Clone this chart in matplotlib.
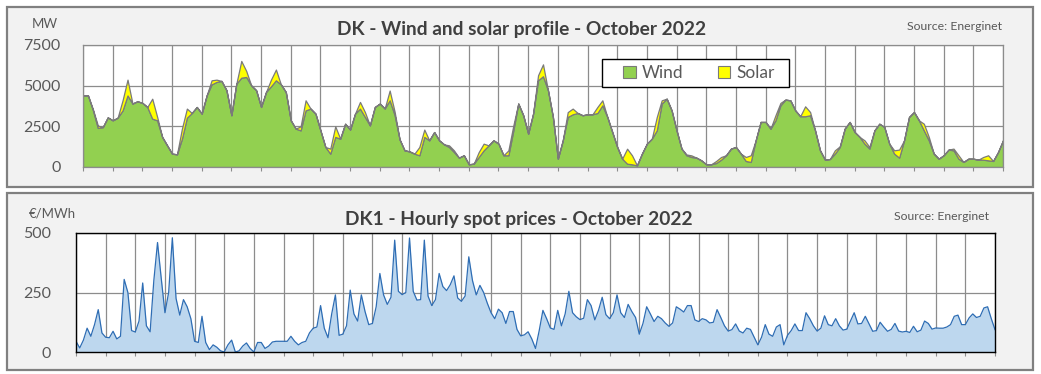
import matplotlib
matplotlib.use("Agg")
import matplotlib.pyplot as plt
from matplotlib.patches import Rectangle, Patch
import numpy as np

plt.rcParams['font.family'] = ['Lato', 'DejaVu Sans']

# ---------------- data ----------------
series_names = ["Wind", "Solar"]

# Wind production (MW), 4-hourly samples, 1 Oct 00:00 -> 1 Nov 00:00
wind = [
    4400, 4400, 3500, 2400, 2450, 3050,
    2870, 3030, 3480, 4400, 3900, 4040,
    3940, 3690, 2970, 2870, 1850, 1330,
    820, 780, 1740, 3030, 3320, 3690,
    3280, 4400, 5080, 5230, 5290, 4720,
    3180, 5120, 5490, 5535, 5020, 4720,
    3690, 4610, 4960, 5330, 5080, 4610,
    2870, 2360, 2250, 3480, 3590, 3280,
    2250, 1230, 820, 1850, 1740, 2660,
    2300, 3280, 3590, 3075, 2560, 3690,
    3900, 3600, 4100, 3200, 1700, 1025,
    960, 820, 720, 1850, 1640, 2150,
    1640, 1390, 1230, 920, 575, 720,
    165, 205, 615, 1025, 1330, 1640,
    1435, 720, 720, 2250, 3900, 3180,
    2050, 3280, 5330, 5580, 4720, 3075,
    510, 1640, 3075, 3240, 3320, 3180,
    3240, 3240, 3320, 3790, 3075, 2150,
    1230, 510, 205, 165, 100, 820,
    1435, 1740, 2250, 3900, 4200, 3480,
    2250, 1130, 720, 615, 575, 410,
    165, 165, 245, 450, 720, 1130,
    1230, 820, 370, 310, 1640, 2770,
    2770, 2360, 2870, 3790, 4140, 4100,
    3480, 3120, 3120, 3180, 2250, 1025,
    450, 490, 820, 1230, 2360, 2770,
    2150, 1850, 1435, 1130, 2250, 2660,
    2460, 1435, 820, 575, 1640, 3075,
    3380, 2870, 2250, 1640, 820, 510,
    720, 1070, 1025, 510, 310, 510,
    510, 450, 450, 410, 370, 920,
    1640,
]

# Solar production (MW), same 4-hourly samples
solar = [
    0, 0, 50, 150, 0, 0,
    0, 0, 620, 970, 0, 0,
    0, 0, 1230, 200, 0, 0,
    0, 0, 620, 560, 0, 0,
    0, 0, 250, 140, 0, 0,
    0, 0, 1030, 370, 0, 0,
    0, 0, 410, 660, 0, 0,
    0, 0, 250, 620, 0, 0,
    0, 0, 310, 650, 0, 0,
    0, 0, 410, 300, 0, 0,
    0, 0, 600, 200, 0, 0,
    0, 0, 510, 450, 0, 0,
    0, 0, 100, 100, 0, 0,
    0, 0, 300, 410, 0, 0,
    0, 0, 300, 300, 0, 0,
    0, 0, 310, 730, 0, 0,
    0, 0, 300, 350, 0, 0,
    0, 0, 370, 310, 0, 0,
    0, 0, 920, 550, 0, 0,
    0, 0, 820, 200, 0, 0,
    0, 0, 50, 100, 0, 0,
    0, 0, 125, 165, 0, 0,
    0, 0, 245, 410, 0, 0,
    0, 0, 310, 150, 0, 0,
    0, 0, 610, 200, 0, 0,
    0, 0, 205, 40, 0, 0,
    0, 0, 205, 100, 0, 0,
    0, 0, 205, 495, 0, 0,
    0, 0, 410, 205, 0, 0,
    0, 0, 105, 210, 0, 0,
    0, 0, 165, 310, 0, 0,
    0,
]

# DK1 spot price (EUR/MWh), 3-hourly samples
price = [
    45, 17, 50, 100, 66, 115, 178, 80,
    62, 60, 87, 55, 66, 305, 250, 90,
    84, 130, 290, 110, 85, 300, 460, 310,
    165, 250, 480, 225, 155, 220, 190, 140,
    45, 40, 150, 40, 10, 30, 20, 5,
    0, 30, 50, 0, 5, 25, 38, 15,
    0, 40, 40, 15, 25, 42, 45, 45,
    45, 45, 66, 45, 30, 40, 45, 80,
    100, 105, 195, 100, 60, 160, 240, 70,
    75, 110, 260, 160, 130, 240, 170, 115,
    120, 190, 330, 240, 200, 230, 470, 255,
    241, 250, 479, 255, 218, 220, 470, 235,
    195, 220, 330, 275, 258, 283, 320, 227,
    213, 235, 400, 300, 240, 280, 250, 205,
    165, 140, 180, 165, 120, 170, 170, 95,
    68, 72, 85, 55, 15, 90, 175, 140,
    101, 95, 175, 110, 160, 255, 165, 148,
    136, 142, 220, 195, 135, 175, 230, 157,
    140, 165, 240, 165, 145, 200, 170, 145,
    75, 120, 190, 160, 128, 150, 140, 122,
    108, 122, 190, 180, 168, 195, 195, 135,
    128, 140, 135, 122, 125, 178, 145, 110,
    88, 94, 118, 88, 80, 100, 95, 62,
    30, 62, 115, 75, 66, 105, 115, 30,
    70, 90, 118, 90, 90, 165, 140, 110,
    88, 100, 152, 115, 110, 140, 110, 92,
    96, 130, 165, 118, 120, 150, 118, 87,
    90, 125, 105, 87, 95, 120, 88, 84,
    87, 82, 108, 85, 92, 130, 120, 96,
    101, 100, 100, 105, 115, 150, 155, 115,
    115, 143, 160, 145, 150, 185, 190, 140,
    94,
]

wind_ticks = [0, 2500, 5000, 7500]
price_ticks = [0, 250, 500]
n_days = 31

# ---------------- layout ----------------
W, H = 1041, 374
fig = plt.figure(figsize=(W / 100, H / 100), dpi=100)
fig.patch.set_facecolor('white')


def fx(px):
    return px / W


def fy(py):
    return 1 - py / H


GRID = '#8C8C8C'
TXT = '#595959'
TITLE = '#404040'

for (x0, y0, x1, y1) in [(7, 7, 1033, 187), (7, 193, 1033, 370)]:
    fig.patches.append(Rectangle((fx(x0), fy(y1)), (x1 - x0) / W, (y1 - y0) / H,
                                 transform=fig.transFigure, facecolor='#F2F2F2',
                                 edgecolor='#808080', lw=1.6, zorder=-5))

# ---------------- top panel ----------------
ax1 = fig.add_axes([fx(83), fy(167), 920 / W, 122 / H])
x_w = np.arange(len(wind)) * 4 / 24
ax1.stackplot(x_w, wind, solar, colors=['#92D050', '#FFFF00'],
              edgecolor='#7A7A7A', linewidth=0.9, labels=series_names)
ax1.set_xlim(0, n_days)
ax1.set_ylim(0, 7500)
ax1.set_xticks(np.arange(0, n_days + 1))
ax1.set_yticks(wind_ticks)
ax1.set_yticklabels([str(v) for v in wind_ticks])
ax1.set_axisbelow(True)
ax1.grid(True, color=GRID, lw=0.9)
ax1.tick_params(axis='x', direction='out', length=3, color=GRID, labelbottom=False)
ax1.tick_params(axis='y', length=0, pad=16, labelsize=11.5, labelcolor=TXT)
for s in ax1.spines.values():
    s.set_color(GRID)
    s.set_linewidth(0.9)

# legend
fig.patches.append(Rectangle((fx(602), fy(87)), 187 / W, 28 / H, transform=fig.transFigure,
                             facecolor='white', edgecolor='black', lw=1.0, zorder=5))
handles = [Patch(facecolor='#92D050', edgecolor='#7A7A7A', lw=0.8),
           Patch(facecolor='#FFFF00', edgecolor='#7A7A7A', lw=0.8)]
leg = fig.legend(handles, series_names, loc='center', bbox_to_anchor=(fx(699), fy(73)),
                 ncol=2, frameon=False, fontsize=12.5, handlelength=0.7, handleheight=0.7,
                 handletextpad=0.35, columnspacing=2.0, labelcolor=TXT)
leg.set_zorder(6)

fig.text(fx(522), fy(30), 'DK - Wind and solar profile - October 2022', ha='center', va='center',
         fontsize=13.8, fontweight='bold', color=TITLE)
fig.text(fx(1002), fy(27), 'Source: Energinet', ha='right', va='center', fontsize=8.8, color=TXT)
fig.text(fx(45), fy(24), 'MW', ha='center', va='center', fontsize=9.5, color=TXT)

# ---------------- bottom panel ----------------
ax2 = fig.add_axes([fx(76), fy(352), 919 / W, 119 / H])
x_p = np.arange(len(price)) * 3 / 24
ax2.fill_between(x_p, price, 0, color='#BDD7EE', lw=0)
ax2.plot(x_p, price, color='#2E6DB4', lw=0.9)
ax2.set_xlim(0, n_days)
ax2.set_ylim(0, 500)
ax2.set_xticks(np.arange(0, n_days + 1))
ax2.set_yticks(price_ticks)
ax2.set_yticklabels([str(v) for v in price_ticks])
ax2.set_axisbelow(True)
ax2.grid(True, color=GRID, lw=0.9)
ax2.tick_params(axis='x', direction='out', length=3, color=GRID, labelbottom=False)
ax2.tick_params(axis='y', length=0, pad=18, labelsize=11.5, labelcolor=TXT)
for s in ax2.spines.values():
    s.set_color('black')
    s.set_linewidth(1.0)

fig.text(fx(519), fy(219), 'DK1 - Hourly spot prices - October 2022', ha='center', va='center',
         fontsize=13.8, fontweight='bold', color=TITLE)
fig.text(fx(989), fy(217), 'Source: Energinet', ha='right', va='center', fontsize=8.8, color=TXT)
fig.text(fx(52), fy(214), '€/MWh', ha='center', va='center', fontsize=9.5, color=TXT)

fig.savefig('out.png', dpi=100, facecolor='white')
